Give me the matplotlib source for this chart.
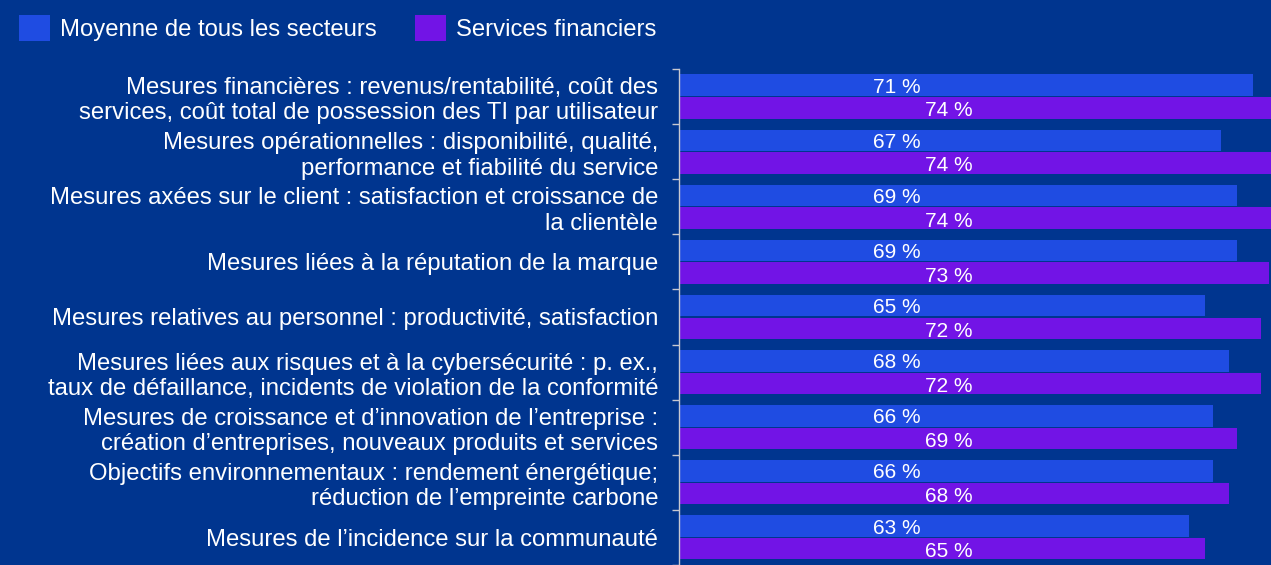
import matplotlib
matplotlib.use('Agg')
import matplotlib.pyplot as plt
import numpy as np

# Données
categories = [
    "Mesures financières : revenus/rentabilité, coût des\nservices, coût total de possession des TI par utilisateur",
    "Mesures opérationnelles : disponibilité, qualité,\nperformance et fiabilité du service",
    "Mesures axées sur le client : satisfaction et croissance de\nla clientèle",
    "Mesures liées à la réputation de la marque",
    "Mesures relatives au personnel : productivité, satisfaction",
    "Mesures liées aux risques et à la cybersécurité : p. ex.,\ntaux de défaillance, incidents de violation de la conformité",
    "Mesures de croissance et d’innovation de l’entreprise :\ncréation d’entreprises, nouveaux produits et services",
    "Objectifs environnementaux : rendement énergétique;\nréduction de l’empreinte carbone",
    "Mesures de l’incidence sur la communauté",
]
moyenne = [71, 67, 69, 69, 65, 68, 66, 66, 63]
financiers = [74, 74, 74, 73, 72, 72, 69, 68, 65]
series_names = ["Moyenne de tous les secteurs", "Services financiers"]

bg = '#00358F'
c_blue = '#1F4CE2'
c_purple = '#7214E6'
txt = '#FFFFFF'

plt.rcParams['font.family'] = ['Liberation Sans', 'DejaVu Sans']

fig = plt.figure(figsize=(12.71, 5.65), dpi=100)
fig.patch.set_facecolor(bg)
ax = fig.add_axes([0.5343, 0.0, 0.4657, 0.878])
ax.set_facecolor(bg)

y = np.arange(len(categories))
h = 0.39
b1 = ax.barh(y - 0.205, moyenne, height=h, color=c_blue, label=series_names[0])
b2 = ax.barh(y + 0.205, financiers, height=h, color=c_purple, label=series_names[1])

# étiquettes des valeurs
for yi, v in zip(y, moyenne):
    ax.text(26.9, yi - 0.17, f"{v} %", color=txt, fontsize=15, ha='center', va='center')
for yi, v in zip(y, financiers):
    ax.text(33.4, yi + 0.26, f"{v} %", color=txt, fontsize=15, ha='center', va='center')

ax.set_xlim(0, 73.2)
ax.set_ylim(8.5 - 8 / 56, -0.5)

for s in ['top', 'right', 'bottom']:
    ax.spines[s].set_visible(False)
ax.spines['left'].set_color('#C8C8D0')
ax.spines['left'].set_linewidth(1)
ax.set_xticks([])

ax.set_yticks(y)
ax.set_yticklabels(categories, color=txt, fontsize=17.2, ha='right', linespacing=1.2)
ax.tick_params(axis='y', which='major', length=0, pad=15)
ax.set_yticks(np.arange(-0.5, len(categories), 1.0), minor=True)
ax.tick_params(axis='y', which='minor', length=5, color='#C8C8D0', width=1)

fig.legend(handles=[b1, b2], labels=series_names, loc='upper left',
           bbox_to_anchor=(-0.002, 1.012), ncol=2, frameon=False,
           fontsize=17.2, labelcolor=txt, handlelength=1.3, handleheight=1.3,
           handletextpad=0.42, columnspacing=1.6)

plt.savefig('out.png', dpi=100, facecolor=bg)
